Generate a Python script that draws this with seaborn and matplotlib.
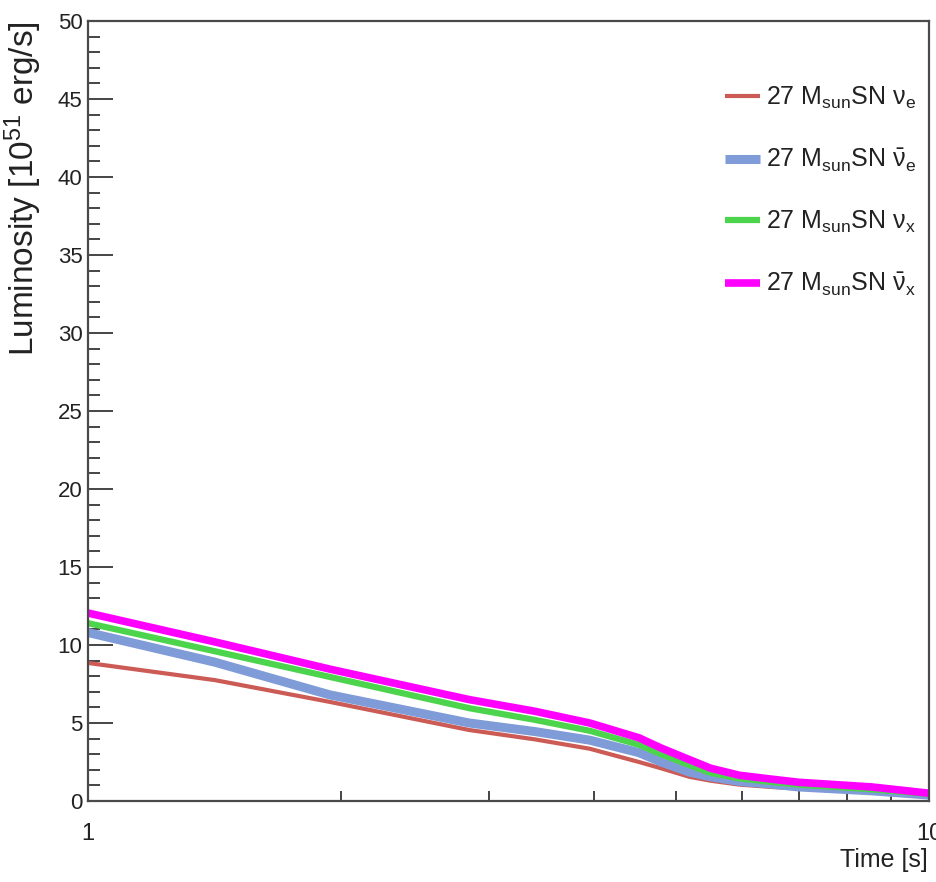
import matplotlib
matplotlib.use("Agg")
import matplotlib.pyplot as plt
import seaborn as sns
import numpy as np
import pandas as pd
from matplotlib.ticker import FixedLocator, FixedFormatter, MultipleLocator, NullFormatter

# ---------------- data ----------------
time_s = [1.0, 1.415, 1.94, 2.84, 3.4, 3.95, 4.52, 4.8, 5.19, 5.5, 5.95, 6.5, 7.0, 8.55, 10.0]
lum_nue = [8.85, 7.75, 6.35, 4.55, 3.95, 3.35, 2.5, 2.1, 1.55, 1.3, 1.05, 0.9, 0.8, 0.55, 0.32]
lum_nuebar = [10.8, 8.9, 6.8, 5.0, 4.45, 3.9, 3.1, 2.5, 1.85, 1.55, 1.25, 1.08, 0.9, 0.65, 0.38]
lum_nux = [11.4, 9.6, 7.95, 5.95, 5.2, 4.5, 3.6, 3.0, 2.3, 1.8, 1.45, 1.22, 1.05, 0.75, 0.45]
lum_nuxbar = [12.05, 10.2, 8.45, 6.5, 5.75, 5.0, 4.05, 3.4, 2.65, 2.1, 1.65, 1.4, 1.2, 0.9, 0.5]

series_labels = [
    r"27 M$_{sun}$SN $\nu_{e}$",
    r"27 M$_{sun}$SN $\bar{\nu}_{e}$",
    r"27 M$_{sun}$SN $\nu_{x}$",
    r"27 M$_{sun}$SN $\bar{\nu}_{x}$",
]
series_values = [lum_nue, lum_nuebar, lum_nux, lum_nuxbar]

x_tick_values = [1, 10]
x_tick_labels = ["1", "10"]
y_label = r"Luminosity [10$^{51}$ erg/s]"
x_label = "Time [s]"

# ---------------- style ----------------
sns.set_style("white")
plt.rcParams["font.family"] = ["Liberation Sans", "DejaVu Sans"]
plt.rcParams["mathtext.default"] = "regular"

colors = ["#cc5a55", "#7f9bd8", "#4dd44d", "#ff00ff"]
widths = [3.0, 6.5, 4.5, 5.5]

fig = plt.figure(figsize=(9.36, 8.82), dpi=100)
ax = fig.add_axes([88 / 936, 81 / 882, 841 / 936, 780 / 882])

for lab, vals, c, lw in zip(series_labels, series_values, colors, widths):
    df = pd.DataFrame({"t": time_s, "L": vals})
    sns.lineplot(data=df, x="t", y="L", ax=ax, color=c, linewidth=lw,
                 label=lab, solid_capstyle="butt", solid_joinstyle="round")

ax.set_xscale("log")
ax.set_xlim(1, 10)
ax.set_ylim(0, 50)

frame_col = "#4a4a4a"
for s in ax.spines.values():
    s.set_visible(True)
    s.set_color(frame_col)
    s.set_linewidth(1.6)

ax.xaxis.set_major_locator(FixedLocator(x_tick_values))
ax.xaxis.set_major_formatter(FixedFormatter(x_tick_labels))
ax.xaxis.set_minor_locator(FixedLocator([2, 3, 4, 5, 6, 7, 8, 9]))
ax.xaxis.set_minor_formatter(NullFormatter())
ax.yaxis.set_major_locator(MultipleLocator(5))
ax.yaxis.set_minor_locator(MultipleLocator(1))

ax.tick_params(axis="both", which="both", direction="in", color="#444444",
               width=1.4, top=False, right=False, left=True, bottom=True)
ax.tick_params(axis="y", which="major", length=18, pad=4, labelsize=16)
ax.tick_params(axis="y", which="minor", length=8.5)
ax.tick_params(axis="x", which="major", length=14, pad=16, labelsize=17)
ax.tick_params(axis="x", which="minor", length=7.5)
for lbl in ax.get_xticklabels() + ax.get_yticklabels():
    lbl.set_color("#222222")

ax.set_xlabel(x_label, fontsize=18, loc="right", color="#222222")
ax.xaxis.set_label_coords(0.9988, -0.060)
ax.set_ylabel(y_label, fontsize=24, loc="top", color="#222222")
ax.yaxis.set_label_coords(-0.052, 1.0)

leg = ax.legend(loc="upper left", bbox_to_anchor=(725 / 936, 1 - 85 / 882),
                bbox_transform=fig.transFigure, frameon=False, fontsize=18,
                handlelength=1.4, handletextpad=0.25, labelspacing=1.42,
                borderpad=0, borderaxespad=0)
for t in leg.get_texts():
    t.set_color("#222222")

fig.savefig("out.png", dpi=100)
